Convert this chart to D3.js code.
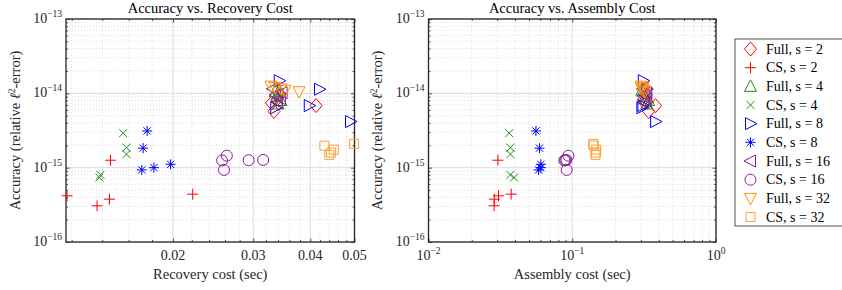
<!DOCTYPE html>
<html>
<head>
<meta charset="utf-8">
<script src="https://cdn.jsdelivr.net/npm/d3@7"></script>
<style>
  body { margin: 0; background: #fff; }
  svg text { font-family: "Liberation Serif", "DejaVu Serif", "Times New Roman", serif; }
</style>
</head>
<body>
<svg id="chart" width="842" height="290" font-family="Liberation Serif, DejaVu Serif, serif"></svg>
<script>
// series labels, in legend order
const seriesNames = ['Full, s = 2', 'CS, s = 2', 'Full, s = 4', 'CS, s = 4', 'Full, s = 8',
  'CS, s = 8', 'Full, s = 16', 'CS, s = 16', 'Full, s = 32', 'CS, s = 32'];
const seriesColors = ['#ff0000', '#ff0000', '#228b22', '#228b22', '#0000ff',
  '#0000ff', '#8b1a9b', '#8b1a9b', '#ff9200', '#ffa030'];
const seriesMarkers = ['diamond', 'plus', 'triUp', 'cross', 'triRight',
  'star', 'triLeft', 'circle', 'triDown', 'square'];

// recovery cost (sec), one row per series
const recoveryCost = [
  [0.0412, 0.0333, 0.0329, 0.0338, 0.0343],
  [0.01172, 0.01364, 0.01452, 0.0146, 0.0221],
  [0.0335, 0.0340, 0.0345, 0.0338, 0.0342],
  [0.01556, 0.01582, 0.01582, 0.01387, 0.0138],
  [0.0342, 0.0419, 0.0398, 0.0490, 0.0336],
  [0.01756, 0.01721, 0.01709, 0.01817, 0.01977],
  [0.0331, 0.0336, 0.0344, 0.0339, 0.0347],
  [0.02625, 0.02563, 0.02588, 0.02931, 0.03153],
  [0.0378, 0.0328, 0.0335, 0.0345, 0.0352],
  [0.04295, 0.04404, 0.04503, 0.04443, 0.0499]
];

// assembly cost (sec)
const assemblyCost = [
  [0.38, 0.34, 0.32, 0.315, 0.325],
  [0.0307, 0.0286, 0.0287, 0.0304, 0.0376],
  [0.31, 0.33, 0.34, 0.32, 0.305],
  [0.0364, 0.0371, 0.0371, 0.0371, 0.0394],
  [0.312, 0.33, 0.31, 0.38, 0.305],
  [0.0559, 0.0592, 0.0583, 0.0605, 0.0605],
  [0.31, 0.32, 0.33, 0.315, 0.33],
  [0.094, 0.088, 0.0915, 0.0895, 0.091],
  [0.32, 0.30, 0.31, 0.305, 0.315],
  [0.141, 0.145, 0.147, 0.146, 0.140]
];

// accuracy (relative l2-error)
const accuracy = [
  [6.84e-15, 5.7e-15, 7.4e-15, 8.3e-15, 9.6e-15],
  [4.18e-16, 3.07e-16, 3.77e-16, 1.26e-15, 4.4e-16],
  [1.05e-14, 7.2e-15, 8.0e-15, 9.0e-15, 1.1e-14],
  [2.91e-15, 1.86e-15, 1.52e-15, 8.0e-16, 7.36e-16],
  [1.48e-14, 1.135e-14, 6.84e-15, 4.17e-15, 6.4e-15],
  [3.12e-15, 1.83e-15, 9.33e-16, 1.0e-15, 1.11e-15],
  [1.15e-14, 9.5e-15, 8.5e-15, 7.6e-15, 1.02e-14],
  [1.45e-15, 1.25e-15, 9.34e-16, 1.26e-15, 1.27e-15],
  [1.05e-14, 1.25e-14, 1.2e-14, 1.15e-14, 1.1e-14],
  [1.98e-15, 1.49e-15, 1.75e-15, 1.6e-15, 2.09e-15]
];

// axis ticks
const yMajorTicks = [1e-16, 1e-15, 1e-14, 1e-13];
const recoveryTicks = [0.02, 0.03, 0.04, 0.05];
const assemblyTicks = [1e-2, 1e-1, 1e0];

const svg = d3.select('#chart');
const FONT = 'Liberation Serif, DejaVu Serif, serif';

const markerPaths = {
  diamond: 'M0,-7L6,0L0,7L-6,0Z',
  plus: 'M-5.5,0H5.5M0,-5.5V5.5',
  triUp: 'M0,-6.5L6,5L-6,5Z',
  cross: 'M-4,-4L4,4M-4,4L4,-4',
  triRight: 'M6.5,0L-5,-6L-5,6Z',
  star: 'M-5,0H5M0,-5V5M-3.6,-3.6L3.6,3.6M-3.6,3.6L3.6,-3.6',
  triLeft: 'M-6.5,0L5,-6L5,6Z',
  circle: 'M5.5,0A5.5,5.5 0 1 1 -5.5,0A5.5,5.5 0 1 1 5.5,0Z',
  triDown: 'M0,6.5L6,-5L-6,-5Z',
  square: 'M-4.5,-4.5H4.5V4.5H-4.5Z'
};

function logMinors(domain) {
  const out = [];
  const lo = Math.floor(Math.log10(domain[0])), hi = Math.ceil(Math.log10(domain[1]));
  for (let e = lo; e <= hi; e++) {
    for (let k = 1; k <= 9; k++) {
      const v = k * Math.pow(10, e);
      if (v >= domain[0] * 0.9999 && v <= domain[1] * 1.0001) out.push(v);
    }
  }
  return out;
}

function powerLabel(sel, v) {
  const e = Math.round(Math.log10(v));
  sel.text('');
  sel.append('tspan').text('10');
  sel.append('tspan').attr('dy', -6).attr('font-size', 9.5).text(e < 0 ? '\u2212' + (-e) : e);
}

function drawPanel(opts) {
  const w = opts.right - opts.left, h = 223;
  const g = svg.append('g').attr('transform', `translate(${opts.left},19)`);

  const x = d3.scaleLog().domain(opts.xDomain).range([0, w]);
  const y = d3.scaleLog().domain([1e-16, 1e-13]).range([h, 0]);

  const xMinor = opts.xMinor.filter(v => !opts.xTicks.includes(v));
  const yMinor = logMinors([1e-16, 1e-13]).filter(v => !yMajorTicks.includes(v));

  // grid
  g.append('g').selectAll('line').data(xMinor).join('line')
    .attr('x1', d => x(d)).attr('x2', d => x(d)).attr('y1', 0).attr('y2', h)
    .attr('stroke', '#d4d4d4').attr('stroke-width', 0.8).attr('stroke-dasharray', '1,2');
  g.append('g').selectAll('line').data(yMinor).join('line')
    .attr('y1', d => y(d)).attr('y2', d => y(d)).attr('x1', 0).attr('x2', w)
    .attr('stroke', '#d4d4d4').attr('stroke-width', 0.8).attr('stroke-dasharray', '1,2');
  g.append('g').selectAll('line').data(opts.xTicks).join('line')
    .attr('x1', d => x(d)).attr('x2', d => x(d)).attr('y1', 0).attr('y2', h)
    .attr('stroke', '#e2e2e2').attr('stroke-width', 1.2);
  g.append('g').selectAll('line').data(yMajorTicks).join('line')
    .attr('y1', d => y(d)).attr('y2', d => y(d)).attr('x1', 0).attr('x2', w)
    .attr('stroke', '#e2e2e2').attr('stroke-width', 1.2);

  // ticks (inward, all four sides)
  const tick = (axis, tr, vals, len) => g.append('g').attr('transform', tr)
    .call(axis.tickValues(vals).tickSize(-len).tickFormat(''))
    .call(a => a.select('.domain').remove())
    .call(a => a.selectAll('line').attr('stroke', '#262626').attr('stroke-width', 0.8));
  tick(d3.axisBottom(x), `translate(0,${h})`, xMinor, 2);
  tick(d3.axisTop(x), 'translate(0,0)', xMinor, 2);
  tick(d3.axisLeft(y), 'translate(0,0)', yMinor, 2);
  tick(d3.axisRight(y), `translate(${w},0)`, yMinor, 2);
  tick(d3.axisBottom(x), `translate(0,${h})`, opts.xTicks, 3.5);
  tick(d3.axisTop(x), 'translate(0,0)', opts.xTicks, 3.5);
  tick(d3.axisLeft(y), 'translate(0,0)', yMajorTicks, 3.5);
  tick(d3.axisRight(y), `translate(${w},0)`, yMajorTicks, 3.5);

  // box
  g.append('rect').attr('width', w).attr('height', h)
    .attr('fill', 'none').attr('stroke', '#262626').attr('stroke-width', 1.3);

  // tick labels
  g.append('g').selectAll('text').data(yMajorTicks).join('text')
    .attr('x', -4).attr('y', d => y(d) + 4).attr('text-anchor', 'end')
    .attr('font-family', FONT).attr('font-size', 14).attr('fill', '#262626')
    .each(function (d) { powerLabel(d3.select(this), d); });
  g.append('g').selectAll('text').data(opts.xTicks).join('text')
    .attr('x', d => x(d)).attr('y', h + 18).attr('text-anchor', 'middle')
    .attr('font-family', FONT).attr('font-size', 14).attr('fill', '#262626')
    .each(function (d) {
      if (opts.power) powerLabel(d3.select(this), d);
      else d3.select(this).text(d3.format('.2f')(d));
    });

  // titles
  g.append('text').attr('x', w / 2).attr('y', -6).attr('text-anchor', 'middle')
    .attr('font-family', FONT).attr('font-size', 14.5).attr('fill', '#000').text(opts.title);
  g.append('text').attr('x', w / 2).attr('y', h + 37).attr('text-anchor', 'middle')
    .attr('font-family', FONT).attr('font-size', 14.5).attr('fill', '#262626').text(opts.xLabel);
  const yl = g.append('text').attr('transform', `translate(${opts.yLabelX},${h / 2}) rotate(-90)`)
    .attr('text-anchor', 'middle').attr('font-family', FONT).attr('font-size', 14.5).attr('fill', '#262626');
  yl.append('tspan').text('Accuracy (relative ');
  yl.append('tspan').attr('font-style', 'italic').text('\u2113');
  yl.append('tspan').attr('dy', -5).attr('font-size', 9.5).text('2');
  yl.append('tspan').attr('dy', 5).text('-error)');

  // markers
  seriesNames.forEach((name, i) => {
    const pts = opts.xs[i].map((v, j) => ({ x: v, y: accuracy[i][j] }));
    g.append('g').selectAll('path').data(pts).join('path')
      .attr('transform', d => `translate(${x(d.x)},${y(d.y)})`)
      .attr('d', markerPaths[seriesMarkers[i]])
      .attr('fill', 'none').attr('stroke', seriesColors[i]).attr('stroke-width', 1);
  });
}

drawPanel({
  left: 66, right: 354.5, xDomain: [0.01166, 0.05],
  xTicks: recoveryTicks, xMinor: d3.range(0.012, 0.0501, 0.002).map(v => +v.toFixed(3)),
  power: false, xs: recoveryCost, title: 'Accuracy vs. Recovery Cost',
  xLabel: 'Recovery cost (sec)', yLabelX: -46
});

drawPanel({
  left: 428.5, right: 716, xDomain: [1e-2, 1e0],
  xTicks: assemblyTicks, xMinor: logMinors([1e-2, 1e0]),
  power: true, xs: assemblyCost, title: 'Accuracy vs. Assembly Cost',
  xLabel: 'Assembly cost (sec)', yLabelX: -47
});

// legend
const lg = svg.append('g').attr('transform', 'translate(735,39)');
lg.append('rect').attr('width', 120).attr('height', 187)
  .attr('fill', '#fff').attr('stroke', '#262626').attr('stroke-width', 0.8);
seriesNames.forEach((name, i) => {
  const cy = 10 + i * 18.67;
  lg.append('path').attr('transform', `translate(15.5,${cy})`)
    .attr('d', markerPaths[seriesMarkers[i]])
    .attr('fill', 'none').attr('stroke', seriesColors[i]).attr('stroke-width', 1);
  lg.append('text').attr('x', 31).attr('y', cy + 4.5)
    .attr('font-family', FONT).attr('font-size', 14).attr('fill', '#000').text(name);
});
</script>
</body>
</html>
